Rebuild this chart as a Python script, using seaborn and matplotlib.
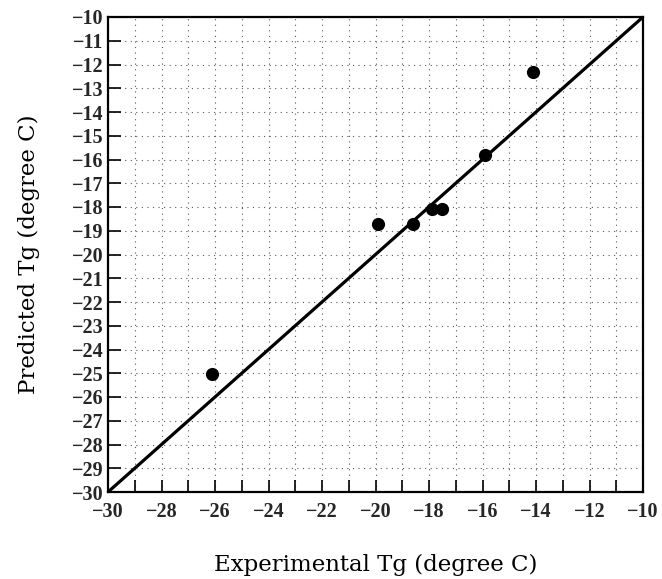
import matplotlib
matplotlib.use("Agg")
import matplotlib.pyplot as plt
import seaborn as sns
import pandas as pd
import numpy as np
from matplotlib.ticker import MultipleLocator, FuncFormatter

# Data
experimental_tg = [-26.1, -19.9, -18.6, -17.9, -17.5, -15.9, -14.1]
predicted_tg = [-25.05, -18.7, -18.7, -18.1, -18.1, -15.8, -12.3]
line_x = [-30, -10]
line_y = [-30, -10]

x_label = "Experimental Tg (degree C)"
y_label = "Predicted Tg (degree C)"

sns.set_theme(style="white")
plt.rcParams['font.family'] = ['DejaVu Serif']

df_pts = pd.DataFrame({"exp": experimental_tg, "pred": predicted_tg})
df_line = pd.DataFrame({"x": line_x, "y": line_y})

fig = plt.figure(figsize=(6.62, 5.79), dpi=100)
ax = fig.add_axes([108/662, 87/579, 535/662, 475/579])

sns.lineplot(data=df_line, x="x", y="y", ax=ax, color="black", lw=2.3, zorder=3)
sns.scatterplot(data=df_pts, x="exp", y="pred", ax=ax, color="black", s=90,
                edgecolor="black", linewidth=0, zorder=4)

ax.set_xlim(-30, -10)
ax.set_ylim(-30, -10)
ax.xaxis.set_major_locator(MultipleLocator(1))
ax.yaxis.set_major_locator(MultipleLocator(1))

def xfmt(v, pos):
    iv = int(round(v))
    if iv % 2 == 0:
        return "\u2212%d" % abs(iv) if iv < 0 else "%d" % iv
    return ""

def yfmt(v, pos):
    iv = int(round(v))
    return "\u2212%d" % abs(iv) if iv < 0 else "%d" % iv

ax.xaxis.set_major_formatter(FuncFormatter(xfmt))
ax.yaxis.set_major_formatter(FuncFormatter(yfmt))

ax.tick_params(axis="x", direction="in", length=9, width=1.2, color="black",
               labelsize=14.5, pad=7.5)
ax.tick_params(axis="y", direction="in", length=9, width=1.2, color="black",
               labelsize=14.5, pad=3)
for lab in ax.get_xticklabels() + ax.get_yticklabels():
    lab.set_fontweight("bold")
    lab.set_family("Liberation Serif")
ax.tick_params(bottom=True, left=True, top=False, right=False)

ax.grid(True, which="major", linestyle=(0, (1, 4)), color="0.35", linewidth=0.8)
ax.set_axisbelow(True)

for sp in ax.spines.values():
    sp.set_color("black")
    sp.set_linewidth(1.6)
    sp.set_visible(True)

ax.set_xlabel(x_label, fontsize=16.5, color="black", family="DejaVu Serif")
ax.set_ylabel(y_label, fontsize=16.5, color="black", family="DejaVu Serif")
ax.xaxis.set_label_coords(0.5, -0.13)
ax.yaxis.set_label_coords(-0.128, 0.5)

fig.savefig("out.png", dpi=100, facecolor="white")
